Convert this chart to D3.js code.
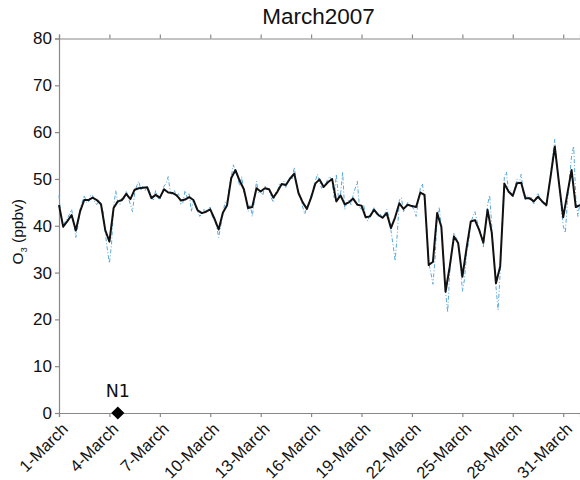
<!DOCTYPE html>
<html>
<head>
<meta charset="utf-8">
<script src="https://cdn.jsdelivr.net/npm/d3@7"></script>
<style>
  body { margin: 0; background: #fff; }
  svg { display: block; font-family: "Liberation Sans", Arial, sans-serif; }
</style>
</head>
<body>
<script>
// 6-hourly mean O3 (ppbv), 1 March 00:00 .. 1 April 00:00
const smoothO3 = [
  44.4, 39.8, 41.0, 42.3, 39.0, 43.0, 45.5, 45.5, 46.0, 45.5,
  44.6, 39.1, 36.6, 43.8, 45.2, 45.5, 46.8, 45.7, 47.7, 48.0,
  48.1, 48.2, 45.9, 46.6, 46.0, 47.8, 47.1, 47.0, 46.5, 45.4,
  45.6, 46.1, 45.5, 43.3, 42.7, 43.0, 43.5, 41.5, 39.2, 42.8,
  44.4, 50.2, 51.9, 49.6, 47.8, 43.8, 44.0, 48.0, 47.3, 48.0,
  47.8, 46.0, 47.3, 48.9, 48.7, 50.1, 51.1, 47.0, 45.0, 43.6,
  46.0, 49.0, 49.9, 48.3, 49.3, 50.0, 45.2, 46.5, 44.6, 45.0,
  45.8, 44.5, 44.3, 41.8, 42.0, 43.4, 42.3, 41.7, 42.7, 39.5,
  41.8, 44.8, 43.6, 44.5, 44.2, 44.0, 47.1, 46.6, 31.6, 32.3,
  42.7, 39.8, 25.9, 31.3, 37.7, 36.3, 29.1, 35.2, 40.9, 41.2,
  39.1, 36.4, 43.4, 38.5, 27.7, 31.3, 49.0, 47.3, 46.4, 49.1,
  49.2, 45.9, 45.9, 45.2, 46.2, 45.2, 44.4, 50.5, 56.9, 49.1,
  41.8, 46.9, 51.9, 44.0, 44.4
];

// 3-hourly O3 (ppbv), same period
const rawO3 = [
  46.5, 42, 39.5, 41, 41.5, 42.5, 43.5, 41, 37.5, 40,
  43.5, 45, 46.5, 45, 45, 46.5, 46.5, 45, 44.5, 45.5,
  44.5, 43, 38.5, 35, 32, 36, 44, 47.5, 45, 44.5,
  46, 45.5, 47.5, 46, 44.5, 43, 47, 48.5, 49.5, 47.5,
  48.5, 47.5, 48.5, 47.5, 46, 45.5, 47.5, 46, 45.5, 47,
  48.5, 49, 50.5, 47, 46.5, 47.5, 46, 47, 44.5, 45,
  47.5, 46, 47, 43, 45.5, 44, 43, 42, 42.5, 43.5,
  43, 43.5, 44, 42, 41, 40, 37.5, 40, 42.5, 45,
  45, 48, 50.5, 53, 51.5, 50.5, 48.5, 50.5, 47, 46,
  43, 44.5, 42, 45.5, 49.5, 47, 47.5, 46.5, 48.5, 47.5,
  48, 46, 45, 47, 47.5, 49, 48.5, 49.5, 48, 49.5,
  50.5, 50, 52.5, 49, 46.5, 46, 44, 42.5, 44, 44.5,
  46.5, 48, 49.5, 51, 49.5, 48, 48.5, 49, 50, 50.5,
  49.5, 46, 51, 46, 46.5, 51.5, 43.5, 45, 45.5, 44.5,
  46.5, 48, 49.5, 44, 43.5, 44.5, 42, 41, 42.5, 43,
  44, 42.5, 42, 42.5, 41.5, 42.5, 43.5, 42, 39, 36,
  32.5, 38, 45.5, 46, 43, 44, 45, 44.5, 44, 43.5,
  42, 45, 48, 49, 45, 40, 32, 30, 27.5, 33,
  42, 44, 39.5, 33, 26, 21.5, 30, 35, 38.5, 37.5,
  36.5, 33, 26, 28.5, 34, 36.5, 40.5, 42, 43, 41,
  39.5, 38, 35.5, 40, 44.5, 46.5, 40, 33, 27, 22,
  30, 41, 50.5, 51.5, 47, 47.5, 46, 48, 50, 49,
  51, 47, 45.5, 46.5, 45.5, 46, 44.5, 46, 47, 45.5,
  45, 44.5, 44, 47.5, 51, 55, 58.5, 53, 49, 44,
  40, 38.5, 45, 50, 55, 57, 46, 42, 45
];

const tickDays = [1, 4, 7, 10, 13, 16, 19, 22, 25, 28, 31];
const yTicks = [0, 10, 20, 30, 40, 50, 60, 70, 80];
const marker = { day: 4.5, value: 0, label: "N1" };

const width = 580;
const height = 480;
const margin = { top: 38.5, right: 0, bottom: 67, left: 59 };

const start = Date.UTC(2007, 2, 1);
const hour = 3600 * 1000;

const x = d3.scaleUtc()
  .domain([new Date(start), new Date(Date.UTC(2007, 3, 1))])
  .range([margin.left, width - margin.right]);

const y = d3.scaleLinear()
  .domain([0, 80])
  .range([height - margin.bottom, margin.top]);

const svg = d3.select("body").append("svg")
  .attr("width", width)
  .attr("height", height);

const dayDate = d => new Date(start + (d - 1) * 24 * hour);

// axes
const xBottom = d3.axisBottom(x)
  .tickValues(tickDays.map(dayDate))
  .tickSize(4)
  .tickFormat(() => "");

const xTop = d3.axisTop(x)
  .tickValues(tickDays.map(dayDate))
  .tickSize(4)
  .tickFormat(() => "");

const yAxis = d3.axisLeft(y)
  .tickValues(yTicks)
  .tickSize(4)
  .tickPadding(3);

svg.append("g")
  .attr("transform", `translate(0,${y(0)})`)
  .call(xBottom);

svg.append("g")
  .attr("transform", `translate(0,${margin.top})`)
  .call(xTop);

svg.append("g")
  .attr("transform", `translate(${margin.left},0)`)
  .call(yAxis)
  .call(g => g.selectAll("text")
    .style("font-size", "17px")
    .attr("fill", "#111"));

svg.selectAll(".domain, .tick line")
  .attr("stroke", "#888")
  .attr("stroke-width", 1.2);

// rotated day labels
svg.append("g")
  .selectAll("text")
  .data(tickDays)
  .join("text")
  .attr("transform", d => `translate(${x(dayDate(d)) + 6},${y(0) + 13}) rotate(-45)`)
  .attr("text-anchor", "end")
  .attr("dy", "0.35em")
  .style("font-size", "16.5px")
  .attr("fill", "#111")
  .text(d => `${d}-March`);

// title
svg.append("text")
  .attr("x", (margin.left + width) / 2 - 1)
  .attr("y", 24)
  .attr("text-anchor", "middle")
  .style("font-size", "22.5px")
  .attr("fill", "#111")
  .text("March2007");

// y label
const yLabel = svg.append("text")
  .attr("transform", `translate(23,${(margin.top + y(0)) / 2 + 6}) rotate(-90)`)
  .attr("text-anchor", "middle")
  .style("font-size", "15.5px")
  .attr("fill", "#111");
yLabel.append("tspan").text("O");
yLabel.append("tspan").attr("dy", 4).style("font-size", "9px").text("3");
yLabel.append("tspan").attr("dy", -4).text(" (ppbv)");

// series
const rawLine = d3.line()
  .x((d, i) => x(new Date(start + i * 3 * hour)))
  .y(d => y(d));

const smoothLine = d3.line()
  .x((d, i) => x(new Date(start + i * 6 * hour)))
  .y(d => y(d));

svg.append("path")
  .datum(rawO3)
  .attr("d", rawLine)
  .attr("fill", "none")
  .attr("stroke", "#5aa8dc")
  .attr("stroke-width", 1)
  .attr("stroke-dasharray", "4,2,1,2");

svg.append("path")
  .datum(smoothO3)
  .attr("d", smoothLine)
  .attr("fill", "none")
  .attr("stroke", "#111")
  .attr("stroke-width", 2)
  .attr("stroke-linejoin", "round");

// N1 marker
const mx = x(dayDate(marker.day));
const my = y(marker.value);
svg.append("path")
  .attr("d", d3.symbol().type(d3.symbolDiamond2).size(110))
  .attr("transform", `translate(${mx},${my})`)
  .attr("fill", "#000");

svg.append("text")
  .attr("x", mx)
  .attr("y", my - 16)
  .attr("text-anchor", "middle")
  .style("font-family", "'DejaVu Sans', sans-serif")
  .style("font-size", "17.5px")
  .attr("fill", "#111")
  .text(marker.label);
</script>
</body>
</html>
